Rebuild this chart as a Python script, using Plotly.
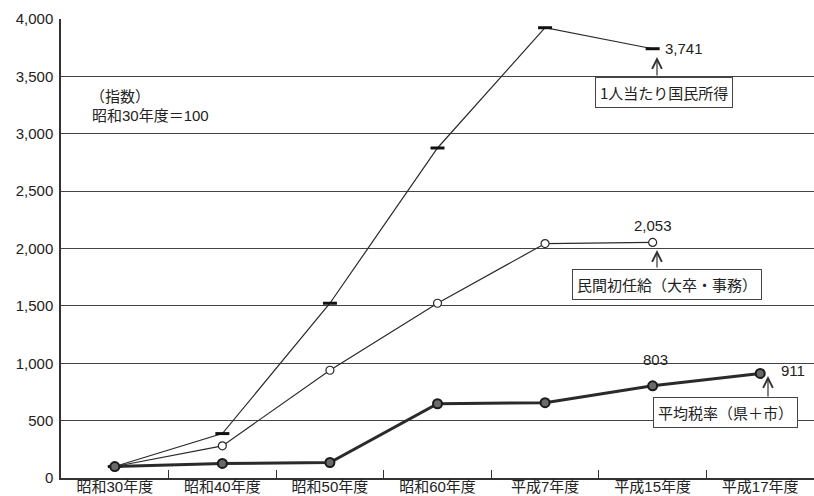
import plotly.graph_objects as go

# 年度区分
years = ["昭和30年度", "昭和40年度", "昭和50年度", "昭和60年度", "平成7年度", "平成15年度", "平成17年度"]

# 指数（昭和30年度＝100）
income_per_capita = [100, 387, 1523, 2876, 3924, 3741]          # 1人当たり国民所得
starting_salary = [100, 280, 939, 1523, 2043, 2053]              # 民間初任給（大卒・事務）
avg_tax_rate = [100, 127, 135, 647, 656, 803, 911]               # 平均税率（県＋市）

y_ticks = [0, 500, 1000, 1500, 2000, 2500, 3000, 3500, 4000]
y_tick_text = ["0", "500", "1,000", "1,500", "2,000", "2,500", "3,000", "3,500", "4,000"]

W, H = 814, 496
ML, MR, MT, MB = 61, 0, 19, 18
PW, PH = W - ML - MR, H - MT - MB

def px(x):
    return (x - ML) / PW

def py(y):
    return (H - MB - y) / PH

CJK = "Liberation Sans, Noto Sans CJK JP, sans-serif"
INK = "#2a2a2a"

fig = go.Figure()

fig.add_trace(go.Scatter(
    x=years[:len(income_per_capita)], y=income_per_capita, mode="lines+markers",
    line=dict(color=INK, width=1.2),
    marker=dict(symbol="line-ew", size=10, line=dict(color="#111", width=3)),
    showlegend=False, hoverinfo="skip",
))
fig.add_trace(go.Scatter(
    x=years[:len(starting_salary)], y=starting_salary, mode="lines+markers",
    line=dict(color=INK, width=1.2),
    marker=dict(symbol="circle", size=8, color="white", line=dict(color=INK, width=1.2)),
    showlegend=False, hoverinfo="skip",
))
fig.add_trace(go.Scatter(
    x=years, y=avg_tax_rate, mode="lines+markers",
    line=dict(color=INK, width=3),
    marker=dict(symbol="circle", size=9, color="#6a6a6a", line=dict(color="#1a1a1a", width=2)),
    showlegend=False, hoverinfo="skip",
))

annotations = []

def note(text, x, y, xanchor="center", size=15):
    annotations.append(dict(
        text=text, xref="paper", yref="paper", x=px(x), y=py(y),
        xanchor=xanchor, yanchor="middle", showarrow=False,
        font=dict(family=CJK, size=size, color="#222"),
    ))

def boxed(text, x, y):
    annotations.append(dict(
        text=text, xref="paper", yref="paper", x=px(x), y=py(y),
        xanchor="center", yanchor="middle", showarrow=False,
        font=dict(family="Noto Sans CJK JP", size=15, color="#222"),
        bordercolor="#444", borderwidth=1, borderpad=4, bgcolor="white",
    ))

def arrow(x, y_tip, y_tail):
    annotations.append(dict(
        text="", xref="paper", yref="paper", x=px(x), y=py(y_tip),
        ax=0, ay=y_tail - y_tip, showarrow=True,
        arrowhead=5, arrowsize=1.6, arrowwidth=1.2, arrowcolor="#333",
    ))

# 指数の基準
note("（指数）", 88, 96, xanchor="left")
note("昭和30年度＝100", 90, 116, xanchor="left")

# 数値ラベル
annotations.append(dict(text="3,741", x=years[5], y=income_per_capita[5], xanchor="left",
                        yanchor="middle", xshift=10, showarrow=False,
                        font=dict(family=CJK, size=15, color="#222")))
annotations.append(dict(text="2,053", x=years[5], y=starting_salary[5], xanchor="center",
                        yanchor="middle", yshift=17, showarrow=False,
                        font=dict(family=CJK, size=15, color="#222")))
annotations.append(dict(text="803", x=years[5], y=avg_tax_rate[5], xanchor="center",
                        yanchor="middle", yshift=26, xshift=3, showarrow=False,
                        font=dict(family=CJK, size=15, color="#222")))
annotations.append(dict(text="911", x=years[6], y=avg_tax_rate[6], xanchor="left",
                        yanchor="middle", xshift=19, yshift=3, showarrow=False,
                        font=dict(family=CJK, size=15, color="#222")))

# 系列名と矢印
arrow(657, 57, 77)
boxed("1人当たり国民所得", 664, 92)
arrow(657, 250, 269)
boxed("民間初任給（大卒・事務）", 667, 284)
arrow(768, 376, 398)
boxed("平均税率（県＋市）", 725, 412)

fig.update_layout(
    width=W, height=H,
    margin=dict(l=ML, r=MR, t=MT, b=MB, pad=0),
    paper_bgcolor="white", plot_bgcolor="white",
    annotations=annotations,
    xaxis=dict(
        type="category", categoryorder="array", categoryarray=years,
        range=[-0.5, 6.5], showgrid=False, zeroline=False,
        showline=True, linecolor="#333", linewidth=1.5,
        ticks="inside", tickson="boundaries", ticklen=8, tickcolor="#333", tickwidth=1.2,
        tickfont=dict(family=CJK, size=15, color="#222"), ticklabelstandoff=-6,
        automargin=False,
    ),
    yaxis=dict(
        range=[0, 4000], tickvals=y_ticks, ticktext=y_tick_text,
        showgrid=True, gridcolor="#444", gridwidth=1.3, zeroline=False,
        showline=True, linecolor="#333", linewidth=1.5, ticks="",
        tickfont=dict(family=CJK, size=15, color="#222"), ticklabelstandoff=3,
        automargin=False,
    ),
)

fig.write_html("out.html")
